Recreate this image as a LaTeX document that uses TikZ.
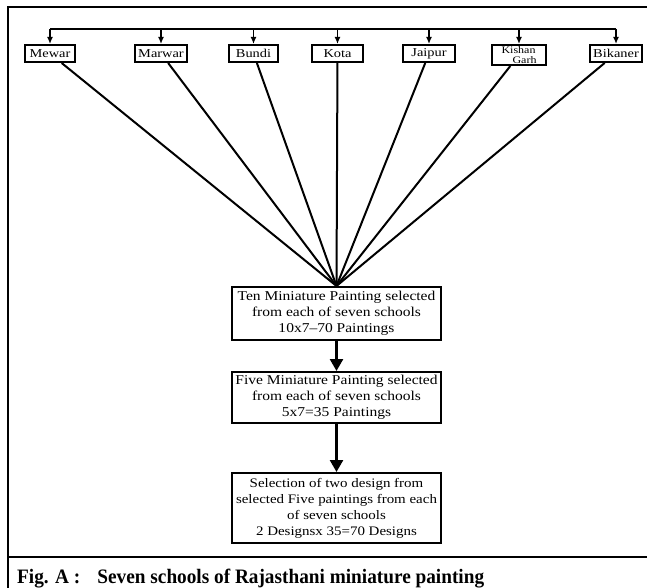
\documentclass[tikz,border=0pt]{standalone}
\usepackage{fontspec}
\setmainfont{Liberation Serif}
\newfontfamily\boxfont[FakeStretch=1.15]{Liberation Serif}
\newfontfamily\schoolfont[FakeStretch=1.2]{Liberation Serif}
\newfontfamily\captionfont[FakeStretch=0.94]{Liberation Serif}
\usetikzlibrary{arrows.meta}

\tikzset{
  school/.style={draw, line width=2pt, inner sep=0pt, minimum height=17pt,
    font=\schoolfont\fontsize{12}{12}\selectfont},
  stage/.style={draw, line width=2pt, minimum width=209pt, inner sep=0pt,
    align=center, font=\boxfont\fontsize{13.5}{16}\selectfont},
}

\begin{document}
\begin{tikzpicture}[x=1pt, y=-1pt, >={Latex[length=7pt,width=6pt]}]
\useasboundingbox (0,0) rectangle (647,588);

% frame
\draw [line width=1.5pt] (8,588) -- (8,7) -- (647,7);
\draw [line width=2.5pt] (8,557) -- (647,557);

% schools
\foreach \m/\l/\x/\w in {mewar/Mewar/50/50pt, marwar/Marwar/161/52pt,
    bundi/Bundi/253.5/49pt, kota/Kota/337.5/51pt, jaipur/Jaipur/429/52pt,
    bikaner/Bikaner/616/52pt}
  \node [school, minimum width=\w] (\m) at (\x,53.5) {\l};

\node [school, minimum width=54pt, minimum height=20pt, align=left,
  font=\schoolfont\fontsize{10}{10}\selectfont] (kishan) at (519,55)
  {Kishan\\\hspace*{1.1em}Garh};

% top line with arrows to schools
\coordinate (bus) at (0,29);
\draw [line width=1.8pt] (mewar.north |- bus) -- (bikaner.north |- bus);
\foreach \m in {mewar,marwar,bundi,kota,jaipur,kishan,bikaner}
  \draw [->, line width=1.8pt] (\m.north |- bus) -- (\m.north);

% selection stages
\node [stage, minimum height=53pt] (ten) at (336.5,313.5)
  {Ten Miniature Painting selected\\from each of seven schools\\10x7\textendash70 Paintings};
\node [stage, minimum height=51pt] (five) at (336.5,397.5)
  {Five Miniature Painting selected\\from each of seven schools\\5x7=35 Paintings};
\node [stage, minimum height=70pt, font=\boxfont\fontsize{13}{16}\selectfont]
  (design) at (336.5,508)
  {Selection of two design from\\selected Five paintings from each\\of seven schools\\2 Designsx 35=70 Designs};

% schools to first stage
\foreach \m in {mewar,marwar,bundi,kota,jaipur,kishan,bikaner}
  \draw [line width=2pt] (\m) -- (ten.north);

% stage arrows
\draw [-{Triangle[length=12pt,width=13pt]}, line width=2.5pt] (ten) -- (five);
\draw [-{Triangle[length=12pt,width=13pt]}, line width=2.5pt] (five) -- (design);

% caption
\node [anchor=base west, inner sep=0pt,
  font=\captionfont\bfseries\fontsize{20.5}{20.5}\selectfont]
  (caption) at (17,583) {Fig. A :\hspace{0.6em} Seven schools of Rajasthani miniature painting};

\end{tikzpicture}
\end{document}
